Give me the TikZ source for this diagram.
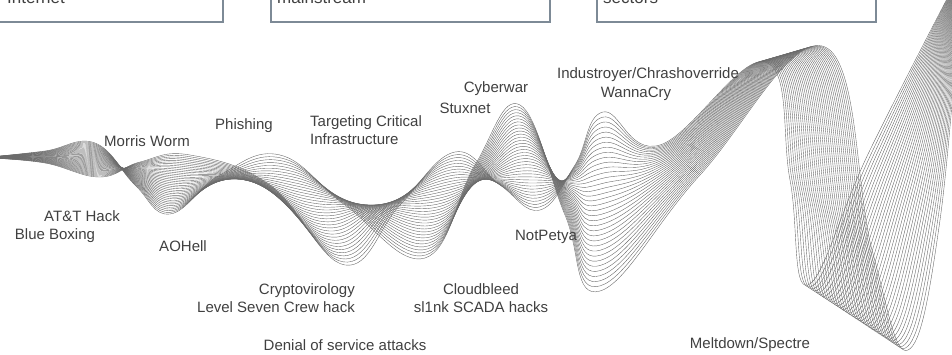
\documentclass[tikz,border=0pt]{standalone}
\usepackage{fontspec}
\setmainfont{Liberation Sans}
\usetikzlibrary{calc}
\definecolor{txtgray}{HTML}{404040}
\definecolor{boxgray}{HTML}{7D8A96}
\definecolor{wavegray}{HTML}{6A6A6A}
\tikzset{
  event/.style={text=txtgray, font=\fontsize{15}{18}\selectfont, inner sep=0pt, align=center},
  eratext/.style={text=txtgray, font=\fontsize{17}{20}\selectfont, inner sep=0pt},
  eracard/.style={draw=boxgray, line width=1.6pt, inner sep=0pt},
  waveline/.style={draw=wavegray, line width=0.4pt},
}
\begin{document}
\begin{tikzpicture}[x=1pt,y=-1pt]
\useasboundingbox (0,0) rectangle (952,355);
\begin{scope}
\clip (0,0) rectangle (952,355);
% era cards, cut at the top
\node[eracard, anchor=south east, minimum width=250pt, minimum height=80pt] (era1) at (224,23) {};
\node[eracard, anchor=south west, minimum width=279pt, minimum height=80pt] (era2) at (270,23) {};
\node[eracard, anchor=south west, minimum width=279pt, minimum height=80pt] (era3) at (596,23) {};
\node[eratext, anchor=base west] (era1txt) at (7,4) {Internet};
\node[eratext, anchor=base west] (era2txt) at (277,4) {mainstream};
\node[eratext, anchor=base west] (era3txt) at (603,4) {sectors};
% the two outer lines of the blend
\foreach \x/\y [count=\i] in {-10/157, 45/151, 95/143, 135/185, 170/214, 220/175,
    280/155, 345/205, 425/258, 475/165, 520/105, 565/215, 600/291, 700/175,
    825/47, 872/250, 908/350, 940/220, 962/-30}
  \coordinate (a\i) at (\x,\y);
\foreach \x/\y [count=\i] in {-10/158, 45/163, 100/177, 140/162, 190/155, 270/185,
    345/265, 400/205, 455/152, 500/185, 540/210, 575/165, 603/112, 660/145,
    765/62, 790/180, 808/285, 870/150, 962/-30}
  \coordinate (b\i) at (\x,\y);
% blended lines
\foreach \k in {0,...,35}{
  \pgfmathsetmacro\t{\k/35}
  \foreach \i in {1,...,19} \coordinate (m\i) at ($(a\i)!\t!(b\i)$);
  \draw[waveline] plot[smooth, tension=0.7] coordinates {(m1) (m2) (m3) (m4) (m5)
    (m6) (m7) (m8) (m9) (m10) (m11) (m12) (m13) (m14) (m15) (m16) (m17) (m18) (m19)};
}
\end{scope}
% events above the wave
\node[event] (morris) at (147,141) {Morris Worm};
\node[event] (phishing) at (244,126) {Phishing};
\node[event, align=left, anchor=west] (critical) at (310,130) {Targeting Critical\\Infrastructure};
\node[event] (cyberwar) at (496,89) {Cyberwar};
\node[event] (stuxnet) at (465,108) {Stuxnet};
\node[event] (industroyer) at (648,75) {Industroyer/Chrashoverride};
\node[event] (wannacry) at (636,94) {WannaCry};
% events below the wave
\node[event] (atthack) at (82,216) {AT\&T Hack};
\node[event] (blueboxing) at (55,236) {Blue Boxing};
\node[event] (aohell) at (183,246) {AOHell};
\node[event, align=right, anchor=east] (crypto) at (355,298) {Cryptovirology\\Level Seven Crew hack};
\node[event] (cloudbleed) at (481,298) {Cloudbleed\\sl1nk SCADA hacks};
\node[event] (notpetya) at (546,237) {NotPetya};
\node[event] (dos) at (345,345) {Denial of service attacks};
\node[event] (meltdown) at (750,345) {Meltdown/Spectre};
\end{tikzpicture}
\end{document}
